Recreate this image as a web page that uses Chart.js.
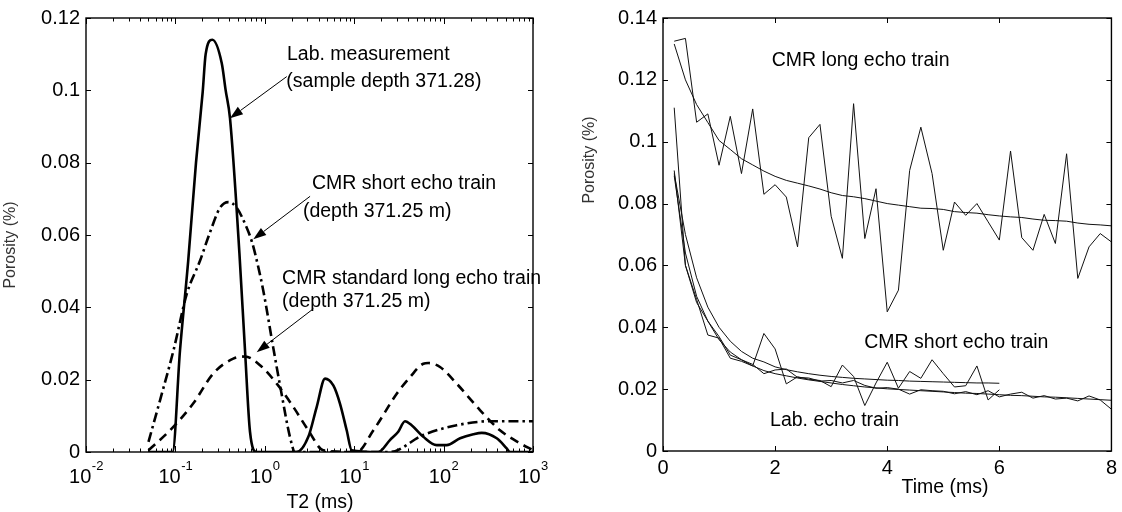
<!DOCTYPE html>
<html>
<head>
<meta charset="utf-8">
<script src="https://cdn.jsdelivr.net/npm/chart.js@4.4.0/dist/chart.umd.min.js"></script>
<style>
    html, body { margin: 0; padding: 0; background: #fff; }
    #wrap { position: relative; width: 1122px; height: 512px; }
    #left { position: absolute; left: 0; top: 0; }
    #right { position: absolute; left: 560px; top: 0; }
</style>
</head>
<body>
<div id="wrap">
    <canvas id="left" width="560" height="512"></canvas>
    <canvas id="right" width="562" height="512"></canvas>
</div>
<script>
// ---- left panel: T2 distributions ----
const labT2 = [0.05, 0.093, 0.1125, 0.139, 0.17, 0.202, 0.218, 0.259, 0.33, 0.365, 0.408, 0.52, 0.601, 0.683, 0.811,
    2.27, 3.07, 3.81, 4.72, 5.84, 6.93, 8.24, 9.37, 18.6, 25.1, 31.1, 37.0, 43.9, 59.3, 83.7, 108, 153, 215, 267, 393, 508, 554, 1000];
const labAmp = [0, 0, 0.028, 0.0528, 0.08, 0.0996, 0.110, 0.114, 0.1075, 0.100, 0.0923, 0.055, 0.028, 0.0056, 0,
    0, 0.0042, 0.0125, 0.0203, 0.0184, 0.0134, 0.006, 0.0005, 0, 0.0033, 0.0056, 0.0085, 0.0074, 0.0042, 0.0019, 0.0019, 0.0038, 0.0049, 0.0053, 0.0038, 0.001, 0, 0];

const shortT2 = [0.05, 0.0673, 0.095, 0.134, 0.188, 0.238, 0.315, 0.391, 0.485, 0.628, 0.72, 0.83, 0.962, 1.24, 1.54, 1.91, 2.18, 25, 59, 140, 331, 1000];
const shortAmp = [0.0028, 0.0143, 0.028, 0.0437, 0.0528, 0.060, 0.0675, 0.0691, 0.0675, 0.062, 0.058, 0.052, 0.0446, 0.029, 0.0161, 0.0042, 0, 0, 0.0047, 0.0074, 0.0085, 0.0085];

const longT2 = [0.05, 0.0871, 0.158, 0.265, 0.444, 0.601, 0.884, 1.36, 2.08, 3.07, 4.51, 10.7, 16.4, 29.9, 42.1, 59.3, 67.5, 91.2, 140, 255, 427, 716, 1000];
const longAmp = [0.0005, 0.006, 0.0134, 0.0217, 0.0258, 0.0264, 0.024, 0.0189, 0.0125, 0.006, 0.0005, 0, 0.006, 0.0161, 0.0207, 0.0244, 0.0246, 0.0235, 0.0189, 0.0116, 0.006, 0.0024, 0.0005];

const leftYTicks = [0, 0.02, 0.04, 0.06, 0.08, 0.1, 0.12];
const leftDecades = [-2, -1, 0, 1, 2, 3];

const leftNotes = [
    ['Lab. measurement', 1.77, 0.1085],
    ['(sample depth 371.28)', 1.74, 0.1009],
    ['CMR short echo train', 3.37, 0.0727],
    ['(depth 371.25 m)', 2.67, 0.065],
    ['CMR standard long echo train', 1.56, 0.0465],
    ['(depth 371.25 m)', 1.56, 0.040]
];
const leftArrows = [
    [1.76, 0.1038, 0.408, 0.0923],
    [3.21, 0.0707, 0.743, 0.0588],
    [3.49, 0.0396, 0.811, 0.0276]
];

// ---- right panel: echo trains ----
const timeLong = [0.2, 0.4, 0.6, 0.8, 1.0, 1.2, 1.4, 1.6, 1.8, 2.0, 2.2, 2.4, 2.6, 2.8, 3.0, 3.2, 3.4, 3.6, 3.8, 4.0,
    4.2, 4.4, 4.6, 4.8, 5.0, 5.2, 5.4, 5.6, 5.8, 6.0, 6.2, 6.4, 6.6, 6.8, 7.0, 7.2, 7.4, 7.6, 7.8, 8.0];
const cmrLong = [0.1325, 0.1334, 0.1063, 0.109, 0.0924, 0.1082, 0.0897, 0.1106, 0.083, 0.0861, 0.0821, 0.066, 0.1013, 0.1056, 0.0759, 0.0623, 0.1123, 0.0687, 0.0848, 0.045,
    0.052, 0.0907, 0.1047, 0.0897, 0.0649, 0.0805, 0.0762, 0.080, 0.0741, 0.0682, 0.097, 0.069, 0.0649, 0.0765, 0.0671, 0.0961, 0.0558, 0.066, 0.0703, 0.0676];
const cmrLongFit = [0.1316, 0.1200, 0.1120, 0.1062, 0.1004, 0.0975, 0.0945, 0.0925, 0.0905, 0.0888, 0.0875, 0.0866, 0.0857, 0.0847, 0.0835, 0.0826, 0.0822, 0.0816, 0.0808, 0.0800,
    0.0795, 0.0790, 0.0785, 0.0784, 0.0781, 0.0774, 0.0771, 0.0769, 0.0764, 0.0760, 0.0757, 0.0755, 0.0750, 0.0746, 0.0745, 0.0743, 0.0737, 0.0733, 0.0731, 0.0728];

const timeShort = [0.2, 0.4, 0.6, 0.8, 1.0, 1.2, 1.4, 1.6, 1.8, 2.0, 2.2, 2.4, 2.6, 2.8, 3.0,
    3.2, 3.4, 3.6, 3.8, 4.0, 4.2, 4.4, 4.6, 4.8, 5.0, 5.2, 5.4, 5.6, 5.8, 6.0];
const cmrShort = [0.111, 0.060, 0.049, 0.0375, 0.0365, 0.030, 0.029, 0.0275, 0.038, 0.033, 0.0217, 0.024, 0.0232, 0.0228, 0.0208,
    0.0278, 0.0241, 0.0147, 0.022, 0.0287, 0.0203, 0.0257, 0.0235, 0.0295, 0.025, 0.0207, 0.0211, 0.0275, 0.0165, 0.0198];
const cmrShortFit = [0.0897, 0.070, 0.056, 0.0465, 0.040, 0.0355, 0.0322, 0.030, 0.0288, 0.0272, 0.0263, 0.0256, 0.025, 0.0245, 0.0241,
    0.0238, 0.0235, 0.0233, 0.0231, 0.0229, 0.0228, 0.0226, 0.0225, 0.0224, 0.0223, 0.0222, 0.0221, 0.022, 0.022, 0.0219];

const labEcho = [0.0907, 0.060, 0.048, 0.042, 0.037, 0.031, 0.0295, 0.028, 0.025, 0.0262, 0.0265, 0.0238, 0.0236, 0.0226, 0.0228, 0.022, 0.0228, 0.0212, 0.0203, 0.0205,
    0.020, 0.0184, 0.0198, 0.0195, 0.0193, 0.0185, 0.0192, 0.0182, 0.0195, 0.0175, 0.0184, 0.019, 0.0171, 0.0179, 0.0168, 0.0171, 0.0162, 0.0178, 0.0165, 0.0135];
const labEchoFit = [0.089, 0.064, 0.050, 0.042, 0.036, 0.032, 0.0295, 0.0275, 0.026, 0.025, 0.0243, 0.0236, 0.023, 0.0225, 0.022, 0.0215, 0.0211, 0.0207, 0.0204, 0.0201,
    0.0199, 0.0197, 0.0195, 0.0193, 0.0191, 0.0189, 0.0187, 0.0186, 0.0184, 0.0182, 0.018, 0.0179, 0.0177, 0.0175, 0.0174, 0.0172, 0.017, 0.0168, 0.0166, 0.0164];

const rightNotes = [
    ['CMR long echo train', 1.94, 0.1246],
    ['CMR short echo train', 3.59, 0.0332],
    ['Lab. echo train', 1.91, 0.0082]
];

const FONT = '"Liberation Sans", Arial, Helvetica, sans-serif';

function pts(xs, ys) {
    return xs.map((x, i) => ({ x: x, y: ys[i] }));
}

function arrow(ctx, x1, y1, x2, y2) {
    const a = Math.atan2(y2 - y1, x2 - x1), L = 13, W = 4.5;
    const bx = x2 - L * Math.cos(a), by = y2 - L * Math.sin(a);
    ctx.beginPath();
    ctx.moveTo(x1, y1);
    ctx.lineTo(bx, by);
    ctx.stroke();
    ctx.beginPath();
    ctx.moveTo(x2, y2);
    ctx.lineTo(bx + W * Math.sin(a), by - W * Math.cos(a));
    ctx.lineTo(bx - W * Math.sin(a), by + W * Math.cos(a));
    ctx.closePath();
    ctx.fill();
}

// box, inward ticks on all sides, notes, arrows, titles
const frame = {
    id: 'frame',
    afterDraw(chart, args, o) {
        const ctx = chart.ctx, a = chart.chartArea;
        const sx = chart.scales.x, sy = chart.scales.y;
        ctx.save();
        ctx.strokeStyle = '#000';
        ctx.fillStyle = '#000';
        ctx.lineWidth = 1.4;
        ctx.strokeRect(a.left, a.top, a.right - a.left, a.bottom - a.top);

        let xt = [];
        if (o.log) {
            leftDecades.forEach(n => {
                xt.push([Math.pow(10, n), 6]);
                if (n < 3) for (let m = 2; m <= 9; m++) xt.push([m * Math.pow(10, n), 3.5]);
            });
        } else {
            xt = sx.ticks.map(t => [t.value, 5]);
        }
        ctx.lineWidth = 1;
        ctx.beginPath();
        xt.forEach(([v, len]) => {
            const px = Math.round(sx.getPixelForValue(v)) + 0.5;
            ctx.moveTo(px, a.bottom); ctx.lineTo(px, a.bottom - len);
            ctx.moveTo(px, a.top); ctx.lineTo(px, a.top + len);
        });
        sy.ticks.forEach(t => {
            const py = Math.round(sy.getPixelForValue(t.value)) + 0.5;
            ctx.moveTo(a.left, py); ctx.lineTo(a.left + 5, py);
            ctx.moveTo(a.right, py); ctx.lineTo(a.right - 5, py);
        });
        ctx.stroke();

        // powers of ten under the log axis
        if (o.log) {
            leftDecades.forEach(n => {
                const px = sx.getPixelForValue(Math.pow(10, n));
                ctx.font = '20px ' + FONT;
                const w1 = ctx.measureText('10').width;
                ctx.font = '13px ' + FONT;
                const w2 = ctx.measureText(String(n)).width;
                const x0 = px - (w1 + w2) / 2;
                ctx.textBaseline = 'alphabetic';
                ctx.textAlign = 'left';
                ctx.font = '20px ' + FONT;
                ctx.fillText('10', x0, 483);
                ctx.font = '13px ' + FONT;
                ctx.fillText(String(n), x0 + w1 + 0.5, 470);
            });
        }

        ctx.font = '19.5px ' + FONT;
        ctx.textAlign = 'left';
        ctx.textBaseline = 'alphabetic';
        o.notes.forEach(([txt, x, y]) => ctx.fillText(txt, sx.getPixelForValue(x), sy.getPixelForValue(y)));

        ctx.lineWidth = 1;
        (o.arrows || []).forEach(([x1, y1, x2, y2]) => {
            arrow(ctx, sx.getPixelForValue(x1), sy.getPixelForValue(y1), sx.getPixelForValue(x2), sy.getPixelForValue(y2));
        });

        // axis titles
        ctx.textAlign = 'center';
        ctx.textBaseline = 'middle';
        ctx.font = '19.5px ' + FONT;
        ctx.fillText(o.xTitle[0], o.xTitle[1], o.xTitle[2]);
        ctx.translate(o.yTitle[1], o.yTitle[2]);
        ctx.rotate(-Math.PI / 2);
        ctx.font = '16px ' + FONT;
        ctx.fillStyle = '#333';
        ctx.fillText(o.yTitle[0], 0, 0);
        ctx.restore();
    }
};

Chart.defaults.font.family = FONT;
Chart.defaults.color = '#000';

const tickFont = { size: 20 };
const noGrid = { display: false, drawTicks: false };

new Chart(document.getElementById('left'), {
    type: 'line',
    data: {
        datasets: [{
            data: pts(longT2, longAmp),
            borderColor: '#000',
            borderWidth: 2.6,
            borderDash: [9, 6],
            cubicInterpolationMode: 'monotone',
            pointRadius: 0
        }, {
            data: pts(shortT2, shortAmp),
            borderColor: '#000',
            borderWidth: 2.6,
            borderDash: [10, 4, 2.5, 4],
            cubicInterpolationMode: 'monotone',
            pointRadius: 0
        }, {
            data: pts(labT2, labAmp),
            borderColor: '#000',
            borderWidth: 2.6,
            cubicInterpolationMode: 'monotone',
            pointRadius: 0
        }]
    },
    options: {
        responsive: false,
        animation: false,
        events: [],
        layout: { padding: { left: 0, top: 16, right: 27, bottom: 0 } },
        plugins: {
            legend: { display: false },
            tooltip: { enabled: false },
            frame: {
                log: true,
                notes: leftNotes,
                arrows: leftArrows,
                xTitle: ['T2 (ms)', 320, 503],
                yTitle: ['Porosity (%)', 11, 245]
            }
        },
        scales: {
            x: {
                type: 'logarithmic',
                min: 0.01,
                max: 1000,
                grid: noGrid,
                border: { display: false },
                ticks: { display: false },
                afterFit: s => { s.height = 60; }
            },
            y: {
                min: 0,
                max: 0.12,
                grid: noGrid,
                border: { display: false },
                afterBuildTicks: s => { s.ticks = leftYTicks.map(v => ({ value: v })); },
                ticks: { font: tickFont, padding: 6, callback: v => String(+v.toFixed(2)) },
                afterFit: s => { s.width = 86; }
            }
        }
    },
    plugins: [frame]
});

const thin = { borderColor: '#111', borderWidth: 1, pointRadius: 0, tension: 0 };

new Chart(document.getElementById('right'), {
    type: 'line',
    data: {
        datasets: [
            Object.assign({ data: pts(timeLong, cmrLong) }, thin),
            Object.assign({ data: pts(timeLong, cmrLongFit) }, thin),
            Object.assign({ data: pts(timeShort, cmrShort) }, thin),
            Object.assign({ data: pts(timeShort, cmrShortFit) }, thin),
            Object.assign({ data: pts(timeLong, labEcho) }, thin),
            Object.assign({ data: pts(timeLong, labEchoFit) }, thin)
        ]
    },
    options: {
        responsive: false,
        animation: false,
        events: [],
        layout: { padding: { left: 0, top: 17, right: 6, bottom: 0 } },
        plugins: {
            legend: { display: false },
            tooltip: { enabled: false },
            frame: {
                log: false,
                notes: rightNotes,
                xTitle: ['Time (ms)', 385, 488],
                yTitle: ['Porosity (%)', 30, 160]
            }
        },
        scales: {
            x: {
                type: 'linear',
                min: 0,
                max: 8,
                grid: noGrid,
                border: { display: false },
                ticks: { font: tickFont, padding: 5, stepSize: 2, maxRotation: 0, callback: v => String(v) },
                afterFit: s => { s.height = 61; }
            },
            y: {
                min: 0,
                max: 0.14,
                grid: noGrid,
                border: { display: false },
                ticks: { font: tickFont, padding: 6, stepSize: 0.02, callback: v => String(+v.toFixed(2)) },
                afterFit: s => { s.width = 103; }
            }
        }
    },
    plugins: [frame]
});
</script>
</body>
</html>
